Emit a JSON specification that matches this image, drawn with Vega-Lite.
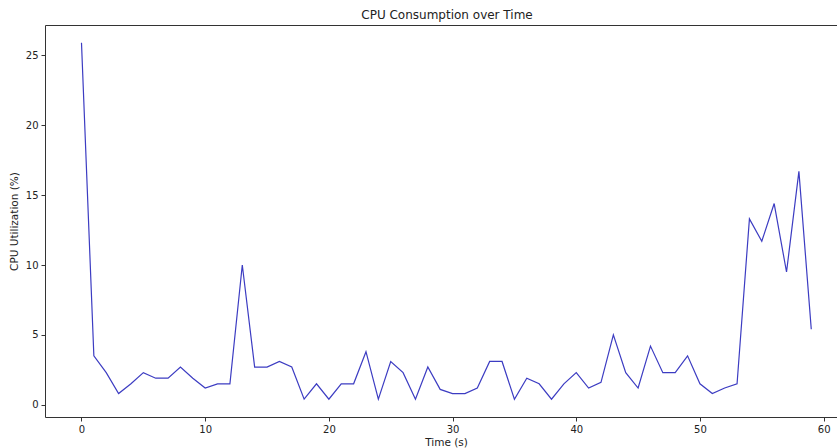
{
  "$schema": "https://vega.github.io/schema/vega-lite/v6.json",
  "autosize": "none",
  "width": 792,
  "height": 392,
  "padding": {"left": 45, "top": 25, "right": 0, "bottom": 31},
  "background": "white",
  "config": {
    "view": {"stroke": null},
    "font": "DejaVu Sans",
    "axis": {
      "grid": false,
      "domainColor": "#333333",
      "domainWidth": 1,
      "tickColor": "#333333",
      "tickSize": 4,
      "labelFontSize": 10,
      "labelColor": "#222222",
      "titleFontSize": 10.5,
      "titleFontWeight": "normal",
      "titleColor": "#222222",
      "labelFont": "DejaVu Sans",
      "titleFont": "DejaVu Sans"
    }
  },
  "title": {
    "text": "CPU Consumption over Time",
    "fontSize": 12,
    "fontWeight": "normal",
    "font": "DejaVu Sans",
    "color": "#222222",
    "anchor": "middle",
    "dx": 6,
    "offset": 3
  },
  "data": {
    "values": [
      {"t": 0, "cpu": 25.9}, {"t": 1, "cpu": 3.5}, {"t": 2, "cpu": 2.3}, {"t": 3, "cpu": 0.8},
      {"t": 4, "cpu": 1.5}, {"t": 5, "cpu": 2.3}, {"t": 6, "cpu": 1.9}, {"t": 7, "cpu": 1.9},
      {"t": 8, "cpu": 2.7}, {"t": 9, "cpu": 1.9}, {"t": 10, "cpu": 1.2}, {"t": 11, "cpu": 1.5},
      {"t": 12, "cpu": 1.5}, {"t": 13, "cpu": 10.0}, {"t": 14, "cpu": 2.7}, {"t": 15, "cpu": 2.7},
      {"t": 16, "cpu": 3.1}, {"t": 17, "cpu": 2.7}, {"t": 18, "cpu": 0.4}, {"t": 19, "cpu": 1.5},
      {"t": 20, "cpu": 0.4}, {"t": 21, "cpu": 1.5}, {"t": 22, "cpu": 1.5}, {"t": 23, "cpu": 3.8},
      {"t": 24, "cpu": 0.4}, {"t": 25, "cpu": 3.1}, {"t": 26, "cpu": 2.3}, {"t": 27, "cpu": 0.4},
      {"t": 28, "cpu": 2.7}, {"t": 29, "cpu": 1.1}, {"t": 30, "cpu": 0.8}, {"t": 31, "cpu": 0.8},
      {"t": 32, "cpu": 1.2}, {"t": 33, "cpu": 3.1}, {"t": 34, "cpu": 3.1}, {"t": 35, "cpu": 0.4},
      {"t": 36, "cpu": 1.9}, {"t": 37, "cpu": 1.5}, {"t": 38, "cpu": 0.4}, {"t": 39, "cpu": 1.5},
      {"t": 40, "cpu": 2.3}, {"t": 41, "cpu": 1.2}, {"t": 42, "cpu": 1.6}, {"t": 43, "cpu": 5.0},
      {"t": 44, "cpu": 2.3}, {"t": 45, "cpu": 1.2}, {"t": 46, "cpu": 4.2}, {"t": 47, "cpu": 2.3},
      {"t": 48, "cpu": 2.3}, {"t": 49, "cpu": 3.5}, {"t": 50, "cpu": 1.5}, {"t": 51, "cpu": 0.8},
      {"t": 52, "cpu": 1.2}, {"t": 53, "cpu": 1.5}, {"t": 54, "cpu": 13.3}, {"t": 55, "cpu": 11.7},
      {"t": 56, "cpu": 14.4}, {"t": 57, "cpu": 9.5}, {"t": 58, "cpu": 16.7}, {"t": 59, "cpu": 5.4}
    ]
  },
  "layer": [
    {
      "mark": {"type": "line", "color": "#3c3cc2", "strokeWidth": 1.2, "clip": true},
      "encoding": {
        "x": {
          "field": "t",
          "type": "quantitative",
          "scale": {"domain": [-2.95, 61.08], "nice": false, "zero": false},
          "axis": {"values": [0, 10, 20, 30, 40, 50, 60], "title": "Time (s)", "titleX": 401, "titlePadding": 3, "labelPadding": 3}
        },
        "y": {
          "field": "cpu",
          "type": "quantitative",
          "scale": {"domain": [-0.875, 27.175], "nice": false, "zero": false},
          "axis": {"values": [0, 5, 10, 15, 20, 25], "title": "CPU Utilization (%)", "titlePadding": 6, "labelPadding": 3}
        }
      }
    },
    {
      "mark": {"type": "line", "opacity": 0},
      "encoding": {
        "x": {
          "field": "t",
          "type": "quantitative",
          "scale": {"domain": [-2.95, 61.08], "nice": false, "zero": false},
          "axis": {"orient": "top", "labels": false, "ticks": false, "title": null}
        },
        "y": {"field": "cpu", "type": "quantitative"}
      }
    }
  ],
  "resolve": {"axis": {"x": "independent"}}
}
